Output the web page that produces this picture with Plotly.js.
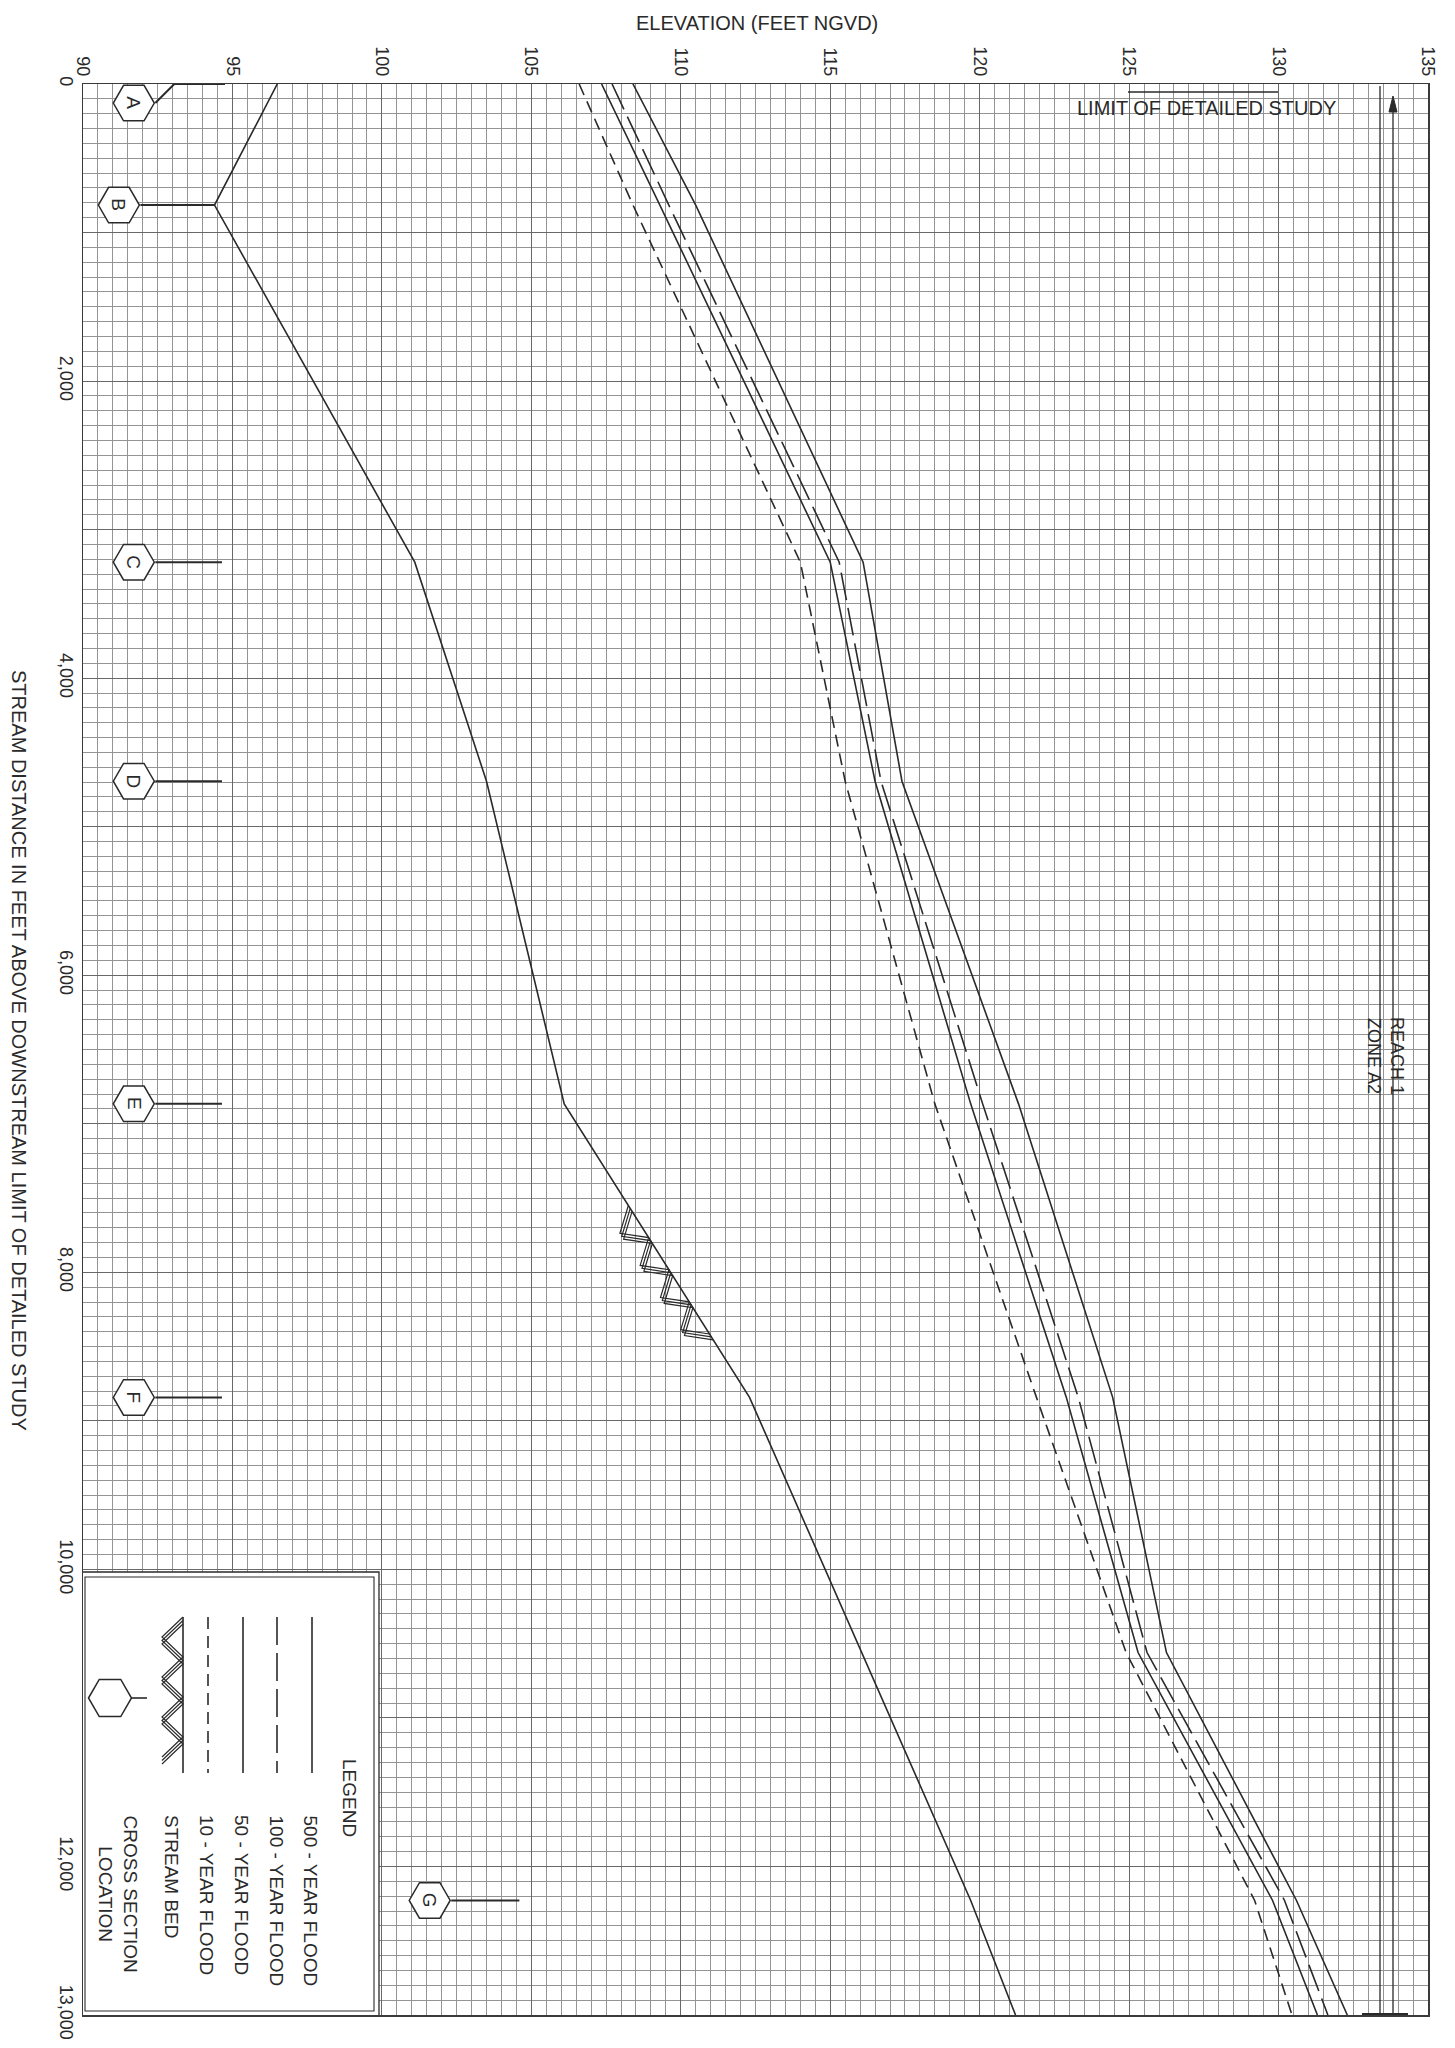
<!DOCTYPE html>
<html><head><meta charset="utf-8">
<script src="https://cdn.plot.ly/plotly-3.0.1.min.js"></script>
<style>html,body{margin:0;padding:0;background:#fff}#chart{width:1455px;height:2048px}</style>
</head><body><div id="chart"></div>
<script>
// ---------------- DATA ----------------
const profileDist = [0, 815, 3219, 4694, 6866, 8842, 10560, 12229, 13000];
const flood500 = [108.4, 110.5, 116.1, 117.4, 121.3, 124.45, 126.25, 130.6, 132.3];
const flood100 = [107.7, 109.6, 115.3, 116.7, 120.1, 123.3, 125.6, 130.2, 131.65];
const flood50  = [107.35, 109.3, 115.0, 116.5, 119.7, 122.9, 125.3, 129.8, 131.3];
const flood10  = [106.6, 108.4, 114.0, 115.5, 118.5, 121.9, 124.9, 129.2, 130.45];
const bedDist = [0, 815, 3219, 4694, 6866, 8842, 12229, 13000];
const bedElev = [96.5, 94.4, 101.1, 103.5, 106.1, 112.3, 119.7, 121.2];
const hatchDist = [7550, 8480];
const xsLabels = ['A', 'B', 'C', 'D', 'E', 'F', 'G'];
const xsDist = [0, 815, 3219, 4694, 6866, 8842, 12229];
const xsSymbolDist = [128, 815, 3219, 4694, 6866, 8842, 12229];
const xsSymbolElev = [91.7, 91.2, 91.7, 91.7, 91.7, 91.7, 101.6];
const xsLeaderEnd = [94.75, 94.4, 94.65, 94.65, 94.65, 94.65, 104.6];
const elevTicks = [90, 95, 100, 105, 110, 115, 120, 125, 130, 135];
const distTicks = [0, 1000, 2000, 3000, 4000, 5000, 6000, 7000, 8000, 9000, 10000, 11000, 12000, 13000];
const distTickText = ['0', '', '2,000', '', '4,000', '', '6,000', '', '8,000', '', '10,000', '', '12,000', '13,000'];
const legendLabels = ['500 - YEAR FLOOD', '100 - YEAR FLOOD', '50 - YEAR FLOOD', '10 - YEAR FLOOD', 'STREAM BED', 'CROSS SECTION<br>LOCATION'];

// ---------------- GEOMETRY HELPERS ----------------
const W = 1455, H = 2048, M = {l: 83, r: 27, t: 84, b: 33};
const plotW = W - M.l - M.r, plotH = H - M.t - M.b;
const X0 = 90, X1 = 135, YMAX = 13000;
const pxE = plotW / (X1 - X0), pxD = plotH / YMAX;
const toPx = (e, d) => [M.l + (e - X0) * pxE, M.t + d * pxD];
const toData = (px, py) => [X0 + (px - M.l) / pxE, (py - M.t) / pxD];
const FONT = 'Liberation Sans, Arial, sans-serif';
const INK = '#2a2a2a';

function bedAt(d) {
  for (let i = 0; i < bedDist.length - 1; i++) {
    if (d >= bedDist[i] && d <= bedDist[i + 1]) {
      const f = (d - bedDist[i]) / (bedDist[i + 1] - bedDist[i]);
      return bedElev[i] + f * (bedElev[i + 1] - bedElev[i]);
    }
  }
  return bedElev[bedElev.length - 1];
}

// zigzag triple-line hatch along a segment (page pixels), on the left side
function zigzag(p0, p1, depth, period, copies, gap) {
  const dx = p1[0] - p0[0], dy = p1[1] - p0[1];
  const L = Math.hypot(dx, dy);
  const u = [dx / L, dy / L];
  const n = [-u[1], u[0]];
  const out = [];
  for (let c = 0; c < copies; c++) {
    const off = c * gap;
    const pts = [];
    const half = period / 2;
    for (let k = 0; k * half <= L - off + 1e-6; k++) {
      const t = k * half + off;
      const dep = (k % 2 === 1) ? depth : 0;
      pts.push([p0[0] + u[0] * t + n[0] * dep, p0[1] + u[1] * t + n[1] * dep]);
    }
    out.push(pts);
  }
  return out;
}

// ---------------- TRACES ----------------
const traces = [];
const lineW = 1.6;
traces.push({x: bedElev, y: bedDist, mode: 'lines', line: {color: INK, width: lineW}, hoverinfo: 'skip'});
traces.push({x: flood500, y: profileDist, mode: 'lines', line: {color: INK, width: lineW}, hoverinfo: 'skip'});
traces.push({x: flood100, y: profileDist, mode: 'lines', line: {color: INK, width: lineW, dash: '28px,8px'}, hoverinfo: 'skip'});
traces.push({x: flood50, y: profileDist, mode: 'lines', line: {color: INK, width: lineW}, hoverinfo: 'skip'});
traces.push({x: flood10, y: profileDist, mode: 'lines', line: {color: INK, width: lineW, dash: '12px,7px'}, hoverinfo: 'skip'});

// streambed hatch
(function () {
  const p0 = toPx(bedAt(hatchDist[0]), hatchDist[0]);
  const p1 = toPx(bedAt(hatchDist[1]), hatchDist[1]);
  const polys = zigzag(p0, p1, 22, 38, 3, 3.5);
  const hx = [], hy = [];
  polys.forEach(pl => { pl.forEach(p => { const d = toData(p[0], p[1]); hx.push(d[0]); hy.push(d[1]); }); hx.push(null); hy.push(null); });
  traces.push({x: hx, y: hy, mode: 'lines', line: {color: INK, width: 1.2}, hoverinfo: 'skip', connectgaps: false});
})();

// cross-section leaders
(function () {
  const lx = [], ly = [];
  const halfW = 21.5 / pxE;
  for (let i = 0; i < xsLabels.length; i++) {
    const s = xsSymbolElev[i] + halfW;
    const mid = s + Math.abs(xsSymbolDist[i] - xsDist[i]) * pxD / pxE;
    lx.push(s, mid, xsLeaderEnd[i], null);
    ly.push(xsSymbolDist[i], xsDist[i], xsDist[i], null);
  }
  traces.push({x: lx, y: ly, mode: 'lines', line: {color: INK, width: 2}, hoverinfo: 'skip'});
})();

// cross-section hexagons
traces.push({x: xsSymbolElev, y: xsSymbolDist, mode: 'markers',
  marker: {symbol: 'hexagon2', size: 41, color: 'white', line: {color: INK, width: 1.5}}, hoverinfo: 'skip'});

// ---------------- ANNOTATIONS ----------------
const ann = [];
xsLabels.forEach((lab, i) => ann.push({x: xsSymbolElev[i], y: xsSymbolDist[i], xref: 'x', yref: 'y', text: lab,
  showarrow: false, textangle: 90, xanchor: 'center', yanchor: 'middle', font: {family: FONT, size: 19, color: INK}}));

const pp = (px, py) => [(px - M.l) / plotW, 1 - (py - M.t) / plotH];
function addText(px, py, text, size, angle, xa, ya, align) {
  const q = pp(px, py);
  ann.push({x: q[0], y: q[1], xref: 'paper', yref: 'paper', text: text, showarrow: false, textangle: angle || 0,
    xanchor: xa || 'center', yanchor: ya || 'middle', align: align || 'center',
    font: {family: FONT, size: size, color: INK}});
}
addText(757, 23, 'ELEVATION (FEET NGVD)', 20);
addText(19, 1050, 'STREAM DISTANCE IN FEET ABOVE DOWNSTREAM LIMIT OF DETAILED STUDY', 20, 90);
addText(1206, 108, 'LIMIT OF DETAILED STUDY', 20);
addText(1386, 1056, 'REACH 1<br>ZONE A2', 18, 90);

// legend texts
addText(350, 1757, 'LEGEND', 19, 90, 'center', 'top');
const legTextX = [310, 276, 242, 207, 172, 118];
legendLabels.forEach((t, i) => addText(legTextX[i], 1813, t, 19, 90, 'center', 'top'));

// ---------------- SHAPES ----------------
const shapes = [];
function pxLine(x0, y0, x1, y1, w, dash, layer) {
  const a = toData(x0, y0), b = toData(x1, y1);
  shapes.push({type: 'line', xref: 'x', yref: 'y', x0: a[0], y0: a[1], x1: b[0], y1: b[1], layer: layer || 'above',
    line: {color: INK, width: w, dash: dash || 'solid'}});
}
function pxPath(pts, close, fill, w) {
  let s = '';
  pts.forEach((p, i) => { const d = toData(p[0], p[1]); s += (i ? 'L' : 'M') + d[0] + ',' + d[1] + ' '; });
  if (close) s += 'Z';
  shapes.push({type: 'path', xref: 'x', yref: 'y', path: s, layer: 'above', fillcolor: fill || 'rgba(0,0,0,0)',
    line: {color: INK, width: w === undefined ? 1.5 : w}});
}
// limit-of-study mark at top
pxLine(1128, 92, 1278, 92, 1.4);
// reach lines + arrow + end bar
pxLine(1380, 86, 1380, 2015, 1.3);
pxLine(1393, 110, 1393, 2015, 1.3);
pxPath([[1393, 96], [1389, 112], [1397, 112]], true, INK, 1);
pxLine(1362, 2014, 1408, 2014, 2);

// legend box
(function () {
  const a = toData(80, 1572), b = toData(379, 2016);
  shapes.push({type: 'rect', xref: 'x', yref: 'y', x0: a[0], y0: a[1], x1: b[0], y1: b[1], layer: 'above',
    fillcolor: 'white', line: {color: INK, width: 1.3}});
  const c = toData(85, 1577), d = toData(374, 2011);
  shapes.push({type: 'rect', xref: 'x', yref: 'y', x0: c[0], y0: c[1], x1: d[0], y1: d[1], layer: 'above',
    line: {color: INK, width: 1.1}});
  pxLine(312, 1617, 312, 1773, 1.6);
  pxLine(277, 1617, 277, 1773, 1.6, '28px,8px');
  pxLine(243, 1617, 243, 1773, 1.6);
  pxLine(208, 1617, 208, 1773, 1.6, '12px,7px');
  pxLine(183, 1617, 183, 1773, 1.6);
  zigzag([183, 1617], [183, 1773], 21, 40, 3, 3.5).forEach(pl => pxPath(pl, false, null, 1.2));
  const cx = 110, cy = 1698, r = 21.5, hh = 18.6;
  pxPath([[cx - r, cy], [cx - r / 2, cy - hh], [cx + r / 2, cy - hh], [cx + r, cy], [cx + r / 2, cy + hh], [cx - r / 2, cy + hh]], true, 'white', 1.5);
  pxLine(cx + r, cy, 147, cy, 1.6);
})();

// ---------------- LAYOUT ----------------
const axisCommon = {
  showline: true, mirror: true, linecolor: '#3a3a3a', linewidth: 1.5, zeroline: false, ticks: '',
  tickfont: {family: FONT, size: 18, color: INK}, tickangle: 90, showgrid: true, gridcolor: '#686868', gridwidth: 1.1
};
const layout = {
  width: W, height: H, margin: M, paper_bgcolor: 'white', plot_bgcolor: 'white', showlegend: false,
  xaxis: Object.assign({}, axisCommon, {range: [X0, X1], side: 'top', tickmode: 'array', tickvals: elevTicks,
    ticktext: elevTicks.map(String),
    minor: {tickmode: 'linear', tick0: 90, dtick: 0.5, showgrid: true, gridcolor: '#949494', gridwidth: 1}}),
  yaxis: Object.assign({}, axisCommon, {range: [YMAX, 0], tickmode: 'array', tickvals: distTicks, ticktext: distTickText,
    minor: {tickmode: 'linear', tick0: 0, dtick: 100, showgrid: true, gridcolor: '#949494', gridwidth: 1}}),
  annotations: ann, shapes: shapes
};
Plotly.newPlot('chart', traces, layout, {staticPlot: true, displayModeBar: false});
</script></body></html>
